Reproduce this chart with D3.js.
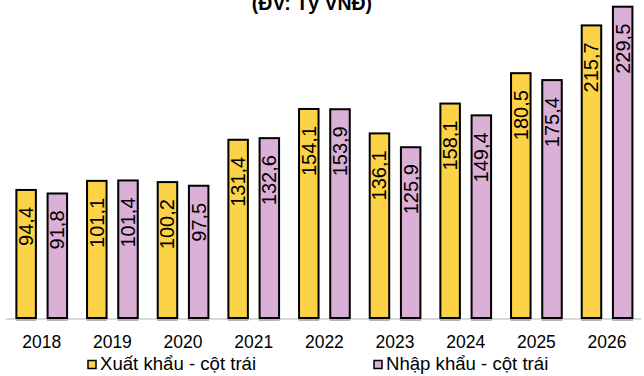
<!DOCTYPE html>
<html>
<head>
<meta charset="utf-8">
<script src="https://cdn.jsdelivr.net/npm/d3@7"></script>
<style>
  html, body { margin: 0; padding: 0; background: #fff; }
  svg { display: block; font-family: "Liberation Sans", Arial, sans-serif; }
</style>
</head>
<body>
<svg id="chart" width="644" height="376"></svg>
<script>
// Kim ngạch xuất / nhập khẩu theo năm
const years = ["2018", "2019", "2020", "2021", "2022", "2023", "2024", "2025", "2026"];
const exportValues = [94.4, 101.1, 100.2, 131.4, 154.1, 136.1, 158.1, 180.5, 215.7];
const importValues = [91.8, 101.4, 97.5, 132.6, 153.9, 125.9, 149.4, 175.4, 229.5];
const seriesNames = ["Xuất khẩu - cột trái", "Nhập khẩu - cột trái"];
const seriesColors = ["#FCD246", "#DBB0D7"];
const title = "(ĐV: Tỷ VNĐ)";

const svg = d3.select("#chart");
const baseY = 318;

const x = d3.scaleBand().domain(years).range([6.4, 642.4]).paddingInner(0).paddingOuter(0);
const sub = d3.scaleBand().domain([0, 1]).range([0, x.bandwidth()]).paddingInner(0.375).paddingOuter(0.32);
const y = d3.scaleLinear().domain([0, 229.5]).range([baseY, 6.7]);

// tiêu đề (phần trên nằm ngoài khung)
svg.append("text")
  .attr("x", 312).attr("y", 10)
  .attr("text-anchor", "middle")
  .attr("font-size", 19.5).attr("font-weight", "bold")
  .attr("fill", "#000")
  .text(title);

// trục hoành
svg.append("line")
  .attr("x1", 6).attr("x2", 641)
  .attr("y1", baseY + 1).attr("y2", baseY + 1)
  .attr("stroke", "#d9d9d9").attr("stroke-width", 2);

const rows = years.map((yr, i) => ({ year: yr, vals: [exportValues[i], importValues[i]] }));

const groups = svg.selectAll("g.grp").data(rows).join("g")
  .attr("class", "grp")
  .attr("transform", d => `translate(${x(d.year)},0)`);

const bars = groups.selectAll("g.bar").data(d => d.vals.map((v, k) => ({ v, k }))).join("g").attr("class", "bar");

// bóng mờ dưới cột
bars.append("rect")
  .attr("x", d => sub(d.k) - 0.5)
  .attr("y", d => y(d.v) + 1)
  .attr("width", sub.bandwidth() + 1)
  .attr("height", d => baseY - y(d.v) + 2)
  .attr("fill", "#b5b5b5");

bars.append("rect")
  .attr("x", d => sub(d.k))
  .attr("y", d => y(d.v))
  .attr("width", sub.bandwidth())
  .attr("height", d => baseY - y(d.v))
  .attr("fill", d => seriesColors[d.k])
  .attr("stroke", "#000").attr("stroke-width", 2);

// nhãn giá trị, xoay dọc
const fmt = v => v.toFixed(1).replace(".", ",");
bars.append("text")
  .attr("transform", d => `translate(${sub(d.k) + sub.bandwidth() / 2 + 7},${y(d.v) + 17}) rotate(-90)`)
  .attr("text-anchor", "end")
  .attr("font-size", 20)
  .attr("fill", "#000")
  .text(d => fmt(d.v));

// nhãn năm
svg.append("g").selectAll("text").data(years).join("text")
  .attr("x", d => x(d) + x.bandwidth() / 2)
  .attr("y", 347.5)
  .attr("text-anchor", "middle")
  .attr("font-size", 17.5)
  .attr("fill", "#000")
  .text(d => d);

// chú giải
const legendX = [87, 373];
const leg = svg.append("g").selectAll("g").data(seriesNames).join("g")
  .attr("transform", (d, i) => `translate(${legendX[i]},0)`);
leg.append("rect")
  .attr("x", 1).attr("y", 360.5).attr("width", 8).attr("height", 8)
  .attr("fill", (d, i) => seriesColors[i])
  .attr("stroke", "#000").attr("stroke-width", 1.5);
leg.append("text")
  .attr("x", 13).attr("y", 369.5)
  .attr("font-size", 18.6)
  .attr("fill", "#000")
  .text(d => d);
</script>
</body>
</html>
